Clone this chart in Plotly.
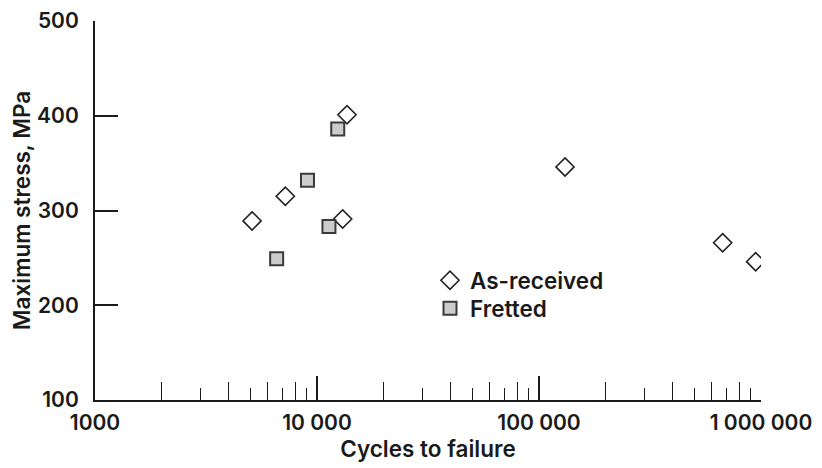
import plotly.graph_objects as go

# As-received specimens
asr_cycles = [5100, 7200, 13650, 13050, 131000, 672000, 946000]
asr_stress = [289, 315, 401, 291, 346, 266, 246]

# Fretted specimens
fret_cycles = [6580, 9060, 12400, 11320]
fret_stress = [249, 332, 386, 283]

x_major = [1000, 10000, 100000, 1000000]
x_major_text = ["1000", "10 000", "100 000", "1 000 000"]
x_minor_long = [m * d for d in (1000, 10000, 100000) for m in (2, 4, 6, 8)]
x_minor_short = [m * d for d in (1000, 10000, 100000) for m in (3, 5, 7, 9)]
y_ticks = [100, 200, 300, 400, 500]

FONT = "Inter"
INK = "#1a1a1a"
fig = go.Figure()
fig.add_trace(go.Scatter(
    x=asr_cycles, y=asr_stress, mode="markers", name="As-received",
    legend="legend",
    marker=dict(symbol="diamond", size=14, color="white",
                line=dict(color="#222222", width=1.6)),
))
fig.add_trace(go.Scatter(
    x=fret_cycles, y=fret_stress, mode="markers", name="Fretted",
    legend="legend2",
    marker=dict(symbol="square", size=13, color="#cccccc",
                line=dict(color="#3a3a3a", width=2)),
))
# invisible trace for secondary tick axis
fig.add_trace(go.Scatter(x=[1000, 1000000], y=[100, 100], xaxis="x2",
                         mode="markers", marker=dict(opacity=0),
                         showlegend=False, hoverinfo="skip"))

leg_common = dict(xanchor="left", yanchor="middle", bgcolor="rgba(0,0,0,0)",
                  font=dict(size=22.5, family=FONT, weight=600, color=INK),
                  itemwidth=30)

fig.update_layout(
    width=814, height=460,
    margin=dict(l=87, r=61, t=13, b=68),
    paper_bgcolor="white", plot_bgcolor="white",
    font=dict(family=FONT, size=21, color=INK, weight=600),
    showlegend=True,
    legend=dict(x=0.503, y=0.315, **leg_common),
    legend2=dict(x=0.503, y=0.241, **leg_common),
    xaxis=dict(
        type="log", range=[3, 6], showgrid=False, zeroline=False,
        automargin=False,
        showline=True, linecolor=INK, linewidth=2,
        ticks="inside", ticklen=24, tickwidth=2, tickcolor=INK,
        tickvals=x_major, ticktext=x_major_text,
        minor=dict(ticks="inside", ticklen=18, tickwidth=1.3,
                   tickcolor=INK, tickvals=x_minor_long, showgrid=False),
        title=dict(text="Cycles to failure", standoff=2, font=dict(size=22.5)),
        ticklabelstandoff=3,
    ),
    xaxis2=dict(
        type="log", range=[3, 6], overlaying="x", anchor="y", side="bottom",
        showgrid=False, zeroline=False, showline=False, showticklabels=False,
        automargin=False,
        ticks="inside", ticklen=12, tickwidth=1.3, tickcolor=INK,
        tickvals=x_minor_short,
    ),
    yaxis=dict(
        range=[100, 500], showgrid=False, zeroline=False,
        automargin=False,
        showline=True, linecolor=INK, linewidth=2,
        ticks="inside", ticklen=23, tickwidth=1.5, tickcolor=INK,
        tickvals=y_ticks,
        title=dict(text="Maximum stress, MPa", standoff=7, font=dict(size=22.5)),
        ticklabelstandoff=10,
    ),
)

fig.write_html("out.html")
